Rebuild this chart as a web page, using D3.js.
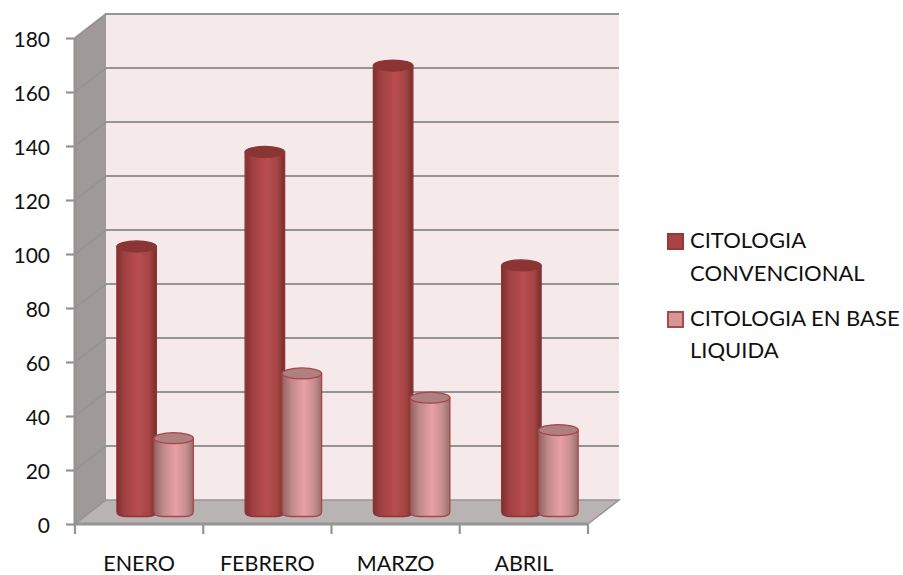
<!DOCTYPE html>
<html>
<head>
<meta charset="utf-8">
<script src="https://cdn.jsdelivr.net/npm/d3@7"></script>
<style>
html,body{margin:0;padding:0;background:#fff}
svg{display:block}
text{font-family:Lato,"Open Sans",sans-serif;fill:#111}
</style>
</head>
<body>
<svg id="chart" width="903" height="575"></svg>
<script>
const categories = ["ENERO", "FEBRERO", "MARZO", "ABRIL"];
const convencional = [100, 135, 167, 93];
const liquida = [29, 53, 44, 32];
const yTicks = [0, 20, 40, 60, 80, 100, 120, 140, 160, 180];
const seriesNames = [["CITOLOGIA", "CONVENCIONAL"], ["CITOLOGIA EN BASE", "LIQUIDA"]];

const svg = d3.select("#chart");
const defs = svg.append("defs");

// Oblique projection of the 3D box
const depthX = 31, depthY = -24;
const y = d3.scaleLinear().domain([0, 180]).range([524, 38]);
const x = d3.scaleBand().domain(categories).range([75, 588]);
const barZero = 516.5;
const barH = v => y(0) - y(v);
const line = d3.line();

const gridColor = "#949494";
function grad(id, stops) {
  const g = defs.append("linearGradient").attr("id", id);
  stops.forEach(([o, c]) => g.append("stop").attr("offset", o).attr("stop-color", c));
}
grad("cylDark", [[0, "#823030"], [0.2, "#a04141"], [0.55, "#ba4d4d"], [0.82, "#a54444"], [1, "#762d2d"]]);
grad("cylLight", [[0, "#8f6464"], [0.25, "#c48a8c"], [0.55, "#e6a1a4"], [0.8, "#c98f91"], [1, "#98706f"]]);

const [x0, x1] = x.range();
const y0 = y(0), yTop = y(180);

// Walls and floor
svg.append("path").attr("fill", "#f5e9ea")
  .attr("d", line([[x0 + depthX, yTop + depthY], [x1 + depthX, yTop + depthY], [x1 + depthX, y0 + depthY], [x0 + depthX, y0 + depthY]]) + "Z");
svg.append("path").attr("fill", "#9f9a98")
  .attr("d", line([[x0, yTop], [x0 + depthX, yTop + depthY], [x0 + depthX, y0 + depthY], [x0, y0]]) + "Z");
svg.append("path").attr("fill", "#b9b3b3")
  .attr("d", line([[x0, y0], [x0 + depthX, y0 + depthY], [x1 + depthX, y0 + depthY], [x1, y0]]) + "Z");

// Gridlines wrap from the side wall across the back wall
svg.append("g").selectAll("path").data(yTicks.slice(1)).join("path")
  .attr("fill", "none").attr("stroke", gridColor).attr("stroke-width", 2.2)
  .attr("d", t => line([[x0, y(t)], [x0 + depthX, y(t) + depthY], [x1 + depthX, y(t) + depthY]]));
svg.append("path").attr("fill", "none").attr("stroke", gridColor).attr("stroke-width", 1.5)
  .attr("d", line([[x0, y0], [x0 + depthX, y0 + depthY], [x1 + depthX, y0 + depthY], [x1, y0]]));

// Front axes
svg.append("path").attr("fill", "none").attr("stroke", gridColor).attr("stroke-width", 3)
  .attr("d", line([[x0, yTop], [x0, y0], [x1, y0]]));
const yAxis = d3.axisLeft(y).tickValues(yTicks).tickSize(9).tickPadding(16);
const gy = svg.append("g").attr("transform", `translate(${x0},0)`).call(yAxis);
gy.select(".domain").remove();
gy.selectAll("line").attr("stroke", gridColor).attr("stroke-width", 2.2);
gy.selectAll("text").style("font-size", "21px").attr("fill", "#111").attr("transform", "translate(0,1.5)");

const edges = categories.map(c => x(c)).concat([x1]);
svg.append("g").selectAll("line").data(edges).join("line")
  .attr("x1", d => d).attr("x2", d => d).attr("y1", y0).attr("y2", y0 + 10)
  .attr("stroke", gridColor).attr("stroke-width", 2.2);
svg.append("g").selectAll("text").data(categories).join("text")
  .attr("x", c => x(c) + x.bandwidth() / 2).attr("y", 571)
  .attr("text-anchor", "middle").style("font-size", "21.5px").text(c => c);

// Cylinders: dark series sits behind the light one
const bw = 39.5, ry = 5.5;
function cylinder(g, cx, v, fill, topFill, edge) {
  const top = barZero - barH(v), l = cx - bw / 2, r = cx + bw / 2;
  g.append("path").attr("fill", `url(#${fill})`).attr("stroke", edge).attr("stroke-width", 1.3)
    .attr("d", `M${l},${top}V${barZero - 5}Q${l},${barZero} ${l + 9},${barZero}H${r - 9}Q${r},${barZero} ${r},${barZero - 5}V${top}Z`);
  g.append("ellipse").attr("cx", cx).attr("cy", top).attr("rx", bw / 2).attr("ry", ry)
    .attr("fill", topFill).attr("stroke", edge).attr("stroke-width", 1.3);
}
const bars = svg.append("g");
categories.forEach((c, i) => {
  const mid = x(c) + x.bandwidth() / 2 + depthX / 2;
  cylinder(bars, mid - 18, convencional[i], "cylDark", "#8a3434", "#8e3535");
  cylinder(bars, mid + 19, liquida[i], "cylLight", "#b07f80", "#a84545");
});

// Legend
const legend = svg.append("g");
const legendRows = [
  { y: 233, fill: "#a94444", edge: "#943a3a", lines: seriesNames[0], base: [248, 281] },
  { y: 311, fill: "#d89597", edge: "#a84a4a", lines: seriesNames[1], base: [326, 358] }
];
legendRows.forEach(row => {
  legend.append("rect").attr("x", 668).attr("y", row.y + 1).attr("width", 15).attr("height", 15)
    .attr("fill", row.fill).attr("stroke", row.edge).attr("stroke-width", 2);
  row.lines.forEach((t, k) => legend.append("text")
    .attr("x", 690).attr("y", row.base[k]).style("font-size", "22px").text(t));
});
</script>
</body>
</html>
